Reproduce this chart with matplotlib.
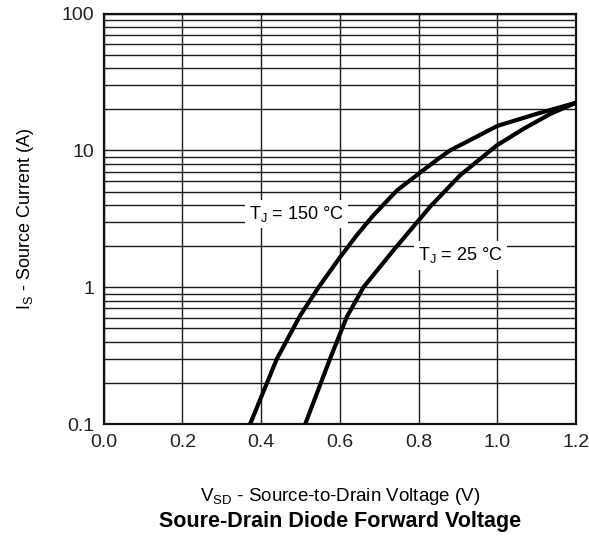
import numpy as np
import matplotlib.pyplot as plt
from matplotlib.ticker import FixedLocator, LogLocator, NullFormatter

plt.rcParams['font.family'] = ['Liberation Sans', 'DejaVu Sans']

# forward characteristic, read at a handful of voltages
v_150 = [0.372, 0.44, 0.499, 0.546, 0.60, 0.643, 0.685, 0.745, 0.81, 0.855, 0.88, 1.0, 1.1, 1.2]
i_150 = [0.1, 0.30, 0.62, 1.0, 1.65, 2.4, 3.35, 5.1, 7.1, 8.9, 10.0, 15.1, 18.5, 22.3]
v_25 = [0.512, 0.575, 0.618, 0.66, 0.736, 0.83, 0.906, 0.999, 1.067, 1.135, 1.2]
i_25 = [0.1, 0.30, 0.61, 1.0, 1.86, 3.9, 6.6, 10.9, 14.4, 18.5, 22.3]

xticks = [0.0, 0.2, 0.4, 0.6, 0.8, 1.0, 1.2]
yticks = [0.1, 1, 10, 100]
ytick_labels = ['0.1', '1', '10', '100']

fig = plt.figure(figsize=(5.89, 5.43), dpi=100)
ax = fig.add_axes([0.176, 0.219, 0.802, 0.756])

ax.set_yscale('log')
ax.set_xlim(0, 1.2)
ax.set_ylim(0.1, 100)
ax.xaxis.set_major_locator(FixedLocator(xticks))
ax.set_xticklabels(['%.1f' % x for x in xticks])
ax.yaxis.set_major_locator(FixedLocator(yticks))
ax.set_yticklabels(ytick_labels)
ax.yaxis.set_minor_locator(LogLocator(base=10, subs=np.arange(2, 10)))
ax.yaxis.set_minor_formatter(NullFormatter())
ax.tick_params(which='both', length=0, labelsize=14, colors='#222222')
ax.tick_params(axis='x', pad=7)
ax.tick_params(axis='y', pad=7)

ax.grid(True, which='both', color='#1a1a1a', lw=1.0)
for s in ax.spines.values():
    s.set_linewidth(1.6)
    s.set_color('#111111')

ax.plot(v_150, i_150, color='black', lw=3, solid_joinstyle='round', zorder=3)
ax.plot(v_25, i_25, color='black', lw=3, solid_joinstyle='round', zorder=3)

box = dict(facecolor='white', edgecolor='none', pad=3)
ax.text(0.49, 3.45, r'T$_\mathregular{J}$ = 150 °C', fontsize=13, ha='center', va='center',
        bbox=box, zorder=4)
ax.text(0.906, 1.71, r'T$_\mathregular{J}$ = 25 °C', fontsize=13, ha='center', va='center',
        bbox=box, zorder=4)

ax.set_ylabel(r'I$_\mathregular{S}$ - Source Current (A)', fontsize=13, labelpad=18)
fig.text(0.577, 0.085, r'V$_\mathregular{SD}$ - Source-to-Drain Voltage (V)', fontsize=13.5,
         ha='center', va='center')
fig.text(0.577, 0.040, 'Soure-Drain Diode Forward Voltage', fontsize=15.5, fontweight='bold',
         ha='center', va='center')

fig.savefig('out.png', dpi=100)
